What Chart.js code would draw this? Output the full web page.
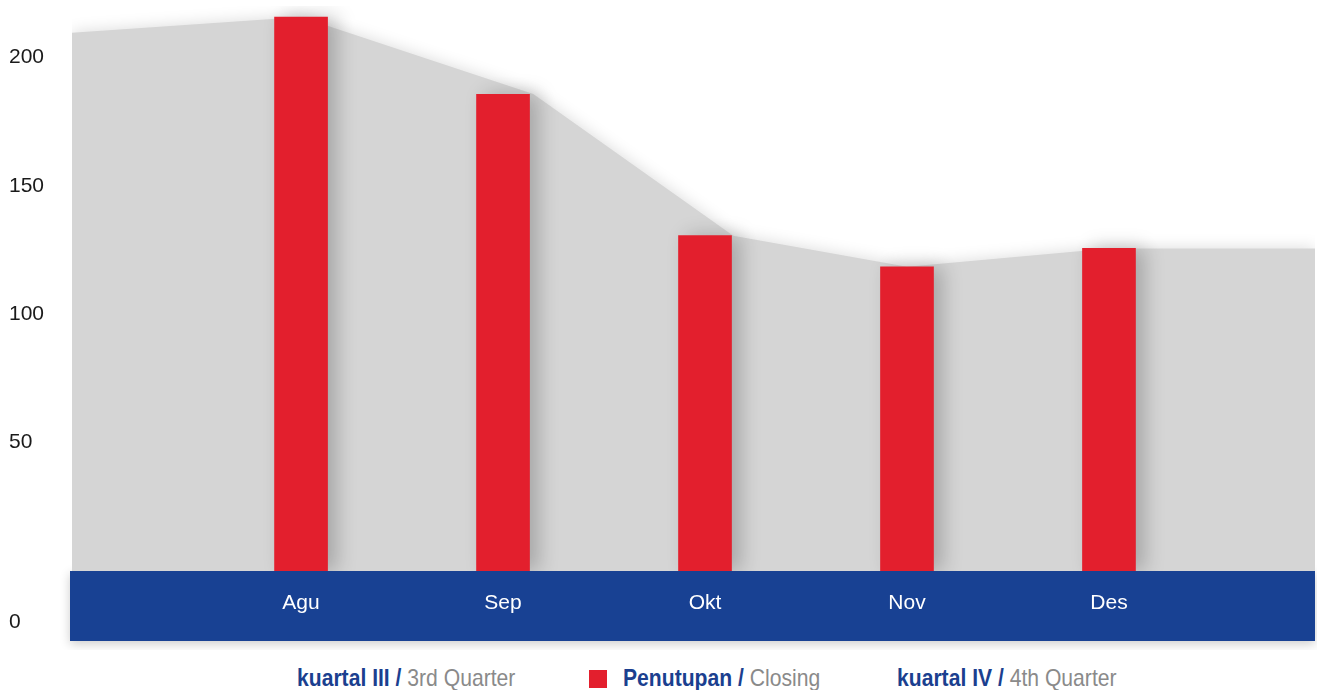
<!DOCTYPE html>
<html>
<head>
<meta charset="utf-8">
<script src="https://cdn.jsdelivr.net/npm/chart.js@4.4.1/dist/chart.umd.min.js"></script>
<style>
  body { margin: 0; background: #fff; width: 1317px; height: 690px; overflow: hidden; position: relative; }
  #chartBox { position: absolute; left: 0; top: 0; width: 1317px; height: 650px; }
  .legend-item {
    position: absolute; top: 666px; height: 24px;
    font-family: 'Liberation Sans', Arial, sans-serif;
    font-size: 24px; line-height: 24px; white-space: nowrap;
    transform: scaleX(0.88); transform-origin: left center;
  }
  .legend-item b { color: #1b3f8f; }
  .legend-item .en { color: #8a8a8a; }
  .swatch { position: absolute; left: 589px; top: 670px; width: 18px; height: 18px; background: #e31f2d; }
</style>
</head>
<body>
<div id="chartBox"><canvas id="closingChart" width="1317" height="650"></canvas></div>
<div class="legend-item" style="left: 297px;"><b>kuartal III / </b><span class="en">3rd Quarter</span></div>
<div class="swatch"></div>
<div class="legend-item" style="left: 623px;"><b>Penutupan / </b><span class="en">Closing</span></div>
<div class="legend-item" style="left: 897px;"><b>kuartal IV / </b><span class="en">4th Quarter</span></div>
<script>
// --- chart data ---
const months = ['Agu', 'Sep', 'Okt', 'Nov', 'Des'];
const closing = [215.7, 185.6, 130.6, 118.4, 125.6];

// grey trend area: starts before Agu, breaks near the bar tops, runs out past Des
const xMin = -0.134;
const xMax = 6.02;
const areaX = [xMin, 1, 2.15, 3.14, 4, 5, xMax];
const areaValues = [209.6, 215.7, 185.7, 130.5, 118.5, 125.6, 125.6];

const yTicks = [50, 100, 150, 200];
const yMax = 220;

const RED = '#e31f2d';
const BLUE = '#184193';
const GREY = '#d5d5d5';
const tickFont = { family: "'Liberation Sans', Arial, sans-serif", size: 21 };

// --- soft shadows under the area and to the right of the bars ---
const shadowPlugin = {
    id: 'markShadows',
    beforeDatasetsDraw(chart) {
        // the filler paints the area before our per-dataset hook, so set it up here
        const ctx = chart.ctx;
        ctx.save();
        ctx.shadowColor = 'rgba(0,0,0,0.15)';
        ctx.shadowBlur = 16;
    },
    beforeDatasetDraw(chart, args) {
        if (args.meta.type !== 'bar') return;
        const ctx = chart.ctx;
        ctx.save();
        ctx.shadowColor = 'rgba(0,0,0,0.22)';
        ctx.shadowBlur = 20;
        ctx.shadowOffsetX = 9;
    },
    afterDatasetDraw(chart) {
        chart.ctx.restore();
    }
};

// --- blue band under the plot that carries the month labels ---
const bandPlugin = {
    id: 'monthBand',
    beforeDraw(chart) {
        const ctx = chart.ctx;
        const area = chart.chartArea;
        const xScale = chart.scales.x;
        ctx.save();
        ctx.shadowColor = 'rgba(0,0,0,0.2)';
        ctx.shadowBlur = 10;
        ctx.shadowOffsetY = 3;
        ctx.fillStyle = BLUE;
        ctx.fillRect(area.left - 2, xScale.top, area.right - area.left + 2, xScale.height);
        ctx.restore();
    },
    afterDraw(chart) {
        // zero label sits down inside the band row
        const ctx = chart.ctx;
        ctx.save();
        ctx.font = tickFont.size + 'px ' + tickFont.family;
        ctx.fillStyle = '#1a1a1a';
        ctx.textAlign = 'left';
        ctx.textBaseline = 'middle';
        ctx.fillText('0', 9, chart.chartArea.bottom + 51);
        ctx.restore();
    }
};

function renderClosingChart() {
    const ctx = document.getElementById('closingChart');

    new Chart(ctx, {
        type: 'bar',
        data: {
            datasets: [
                {
                    type: 'bar',
                    label: 'Penutupan / Closing',
                    data: closing.map((v, i) => ({ x: i + 1, y: v })),
                    backgroundColor: RED,
                    barThickness: 53
                },
                {
                    type: 'line',
                    label: 'trend',
                    data: areaValues.map((v, i) => ({ x: areaX[i], y: v })),
                    fill: 'origin',
                    backgroundColor: GREY,
                    borderColor: 'transparent',
                    borderWidth: 0,
                    pointRadius: 0,
                    tension: 0
                }
            ]
        },
        options: {
            responsive: false,
            animation: false,
            layout: { padding: { top: 6, left: 9, right: 2, bottom: 9 } },
            plugins: {
                legend: { display: false },
                tooltip: { enabled: false }
            },
            scales: {
                x: {
                    type: 'linear',
                    min: xMin,
                    max: xMax,
                    offset: false,
                    grid: { display: false, drawTicks: false },
                    border: { display: false },
                    afterBuildTicks: s => { s.ticks = months.map((_, i) => ({ value: i + 1 })); },
                    afterFit: s => { s.height = 70; },
                    ticks: {
                        color: '#ffffff',
                        font: tickFont,
                        padding: 20,
                        maxRotation: 0,
                        autoSkip: false,
                        callback: value => months[value - 1] || ''
                    }
                },
                y: {
                    min: 0,
                    max: yMax,
                    grid: { display: false, drawTicks: false },
                    border: { display: false },
                    afterBuildTicks: s => { s.ticks = yTicks.map(v => ({ value: v })); },
                    afterFit: s => {
                        s.width = 63;
                        // no extra room for half-labels at the ends
                        s.paddingTop = 0;
                        s.paddingBottom = 0;
                    },
                    ticks: {
                        color: '#1a1a1a',
                        font: tickFont,
                        crossAlign: 'far',
                        padding: 0
                    }
                }
            }
        },
        plugins: [shadowPlugin, bandPlugin]
    });
}

document.addEventListener('DOMContentLoaded', () => {
    renderClosingChart();
});
</script>
</body>
</html>
